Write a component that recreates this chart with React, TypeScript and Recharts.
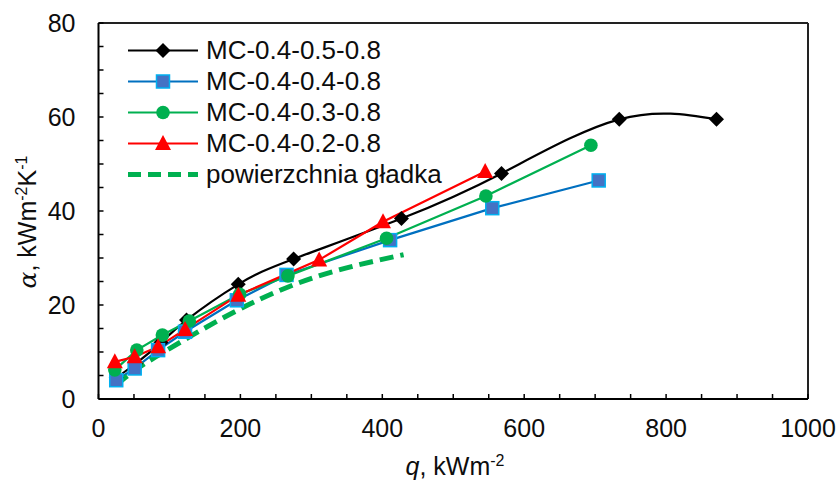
import React from "react";
import { ComposedChart, Line, XAxis, YAxis, ReferenceLine } from "recharts";

// q [kW/m2] and alpha [kW/m2K]
const Q_05 = [25, 52, 88, 124, 197, 275, 427, 568, 734, 871];
const A_05 = [4.5, 7.5, 12, 16.8, 24.4, 29.8, 38.4, 48.0, 59.5, 59.5];
const Q_04 = [25, 51, 84, 122, 195, 265, 411, 555, 705];
const A_04 = [4.0, 6.5, 10.4, 14.3, 21.0, 26.4, 33.8, 40.6, 46.5];
const Q_03 = [23, 54, 90, 128, 199, 267, 406, 546, 694];
const A_03 = [6.2, 10.4, 13.6, 16.6, 22.3, 26.2, 34.2, 43.2, 54.0];
const Q_02 = [23, 51, 84, 122, 197, 311, 401, 545];
const A_02 = [7.9, 9.0, 11.1, 14.8, 22.1, 29.6, 37.7, 48.4];
const Q_SMOOTH = [25, 55, 90, 128, 200, 270, 430];
const A_SMOOTH = [3.0, 6.5, 9.8, 13.2, 19.2, 24.0, 30.7];

const X_TICKS = Array.from({ length: 21 }, (_, i) => i * 50);
const Y_TICKS = Array.from({ length: 17 }, (_, i) => i * 5);

const FONT = "'Liberation Sans', Arial, sans-serif";
const TXT = "#0d0d0d";

const pts = (q: number[], a: number[]) => q.map((x, i) => ({ q: x, a: a[i] }));

type Shape = "diamond" | "square" | "circle" | "triangle" | "none";

function Marker({ shape, cx, cy }: { shape: Shape; cx: number; cy: number }) {
  if (shape === "diamond")
    return <path d={`M${cx},${cy - 7.5}L${cx + 7.5},${cy}L${cx},${cy + 7.5}L${cx - 7.5},${cy}Z`} fill="#000" />;
  if (shape === "square")
    return <rect x={cx - 6.5} y={cy - 6.5} width={13} height={13} fill="#4472C4" stroke="#00B0F0" strokeWidth={1.5} />;
  if (shape === "circle") return <circle cx={cx} cy={cy} r={6.8} fill="#00B050" />;
  if (shape === "triangle")
    return <path d={`M${cx},${cy - 8.5}L${cx + 8},${cy + 6.5}L${cx - 8},${cy + 6.5}Z`} fill="#FF0000" />;
  return null;
}

const SERIES = [
  { name: "MC-0.4-0.5-0.8", data: pts(Q_05, A_05), color: "#000000", shape: "diamond" as Shape, type: "natural", dash: undefined, w: 2.2 },
  { name: "MC-0.4-0.4-0.8", data: pts(Q_04, A_04), color: "#0070C0", shape: "square" as Shape, type: "linear", dash: undefined, w: 2.2 },
  { name: "MC-0.4-0.3-0.8", data: pts(Q_03, A_03), color: "#00B050", shape: "circle" as Shape, type: "linear", dash: undefined, w: 2.2 },
  { name: "MC-0.4-0.2-0.8", data: pts(Q_02, A_02), color: "#FF0000", shape: "triangle" as Shape, type: "linear", dash: undefined, w: 2.2 },
  { name: "powierzchnia gładka", data: pts(Q_SMOOTH, A_SMOOTH), color: "#00B050", shape: "none" as Shape, type: "monotone", dash: "14 7", w: 5 },
];

const xTick = (v: number) => (v % 200 === 0 ? String(v) : "");
const yTick = (v: number) => (v % 20 === 0 ? String(v) : "");

function LegendBox() {
  return (
    <div style={{ position: "absolute", left: 127, top: 35, fontFamily: FONT, fontSize: 26, color: TXT }}>
      {SERIES.map((s) => (
        <div key={s.name} style={{ display: "flex", alignItems: "center", height: 31 }}>
          <svg width={72} height={31} style={{ display: "block" }}>
            <line x1={1} x2={71} y1={15.5} y2={15.5} stroke={s.color} strokeWidth={s.dash ? 5 : 2.2}
              strokeDasharray={s.dash ? "13 7" : undefined} />
            <Marker shape={s.shape} cx={36} cy={15.5} />
          </svg>
          <span style={{ marginLeft: 7, whiteSpace: "nowrap", lineHeight: "31px" }}>{s.name}</span>
        </div>
      ))}
    </div>
  );
}

export default function App() {
  return (
    <div style={{ position: "absolute", left: 0, top: 0, width: 840, height: 484, background: "#fff" }}>
      <ComposedChart width={840} height={484} margin={{ top: 23, right: 32, bottom: 0, left: 0 }}>
        <XAxis type="number" dataKey="q" domain={[0, 1000]} ticks={X_TICKS} interval={0}
          allowDataOverflow height={85} tickFormatter={xTick}
          axisLine={{ stroke: "#000", strokeWidth: 2 }} tickLine={{ stroke: "#000", strokeWidth: 1.5 }}
          tickSize={-5} tickMargin={25}
          tick={{ fill: TXT, fontSize: 25, fontFamily: FONT }} />
        <YAxis type="number" dataKey="a" domain={[0, 80]} ticks={Y_TICKS} interval={0}
          allowDataOverflow width={98.5} tickFormatter={yTick}
          axisLine={{ stroke: "#000", strokeWidth: 2 }} tickLine={{ stroke: "#000", strokeWidth: 1.5 }}
          tickSize={-5} tickMargin={28}
          tick={{ fill: TXT, fontSize: 25, fontFamily: FONT }} />
        <ReferenceLine y={80} stroke="#222" strokeWidth={2} />
        <ReferenceLine x={1000} stroke="#222" strokeWidth={2} />
        {SERIES.map((s) => (
          <Line key={s.name} data={s.data} dataKey="a" name={s.name} type={s.type as any}
            stroke={s.color} strokeWidth={s.w} strokeDasharray={s.dash}
            isAnimationActive={false} legendType="none"
            dot={s.shape === "none" ? false : (p: any) => <Marker key={`${s.name}-${p.index}`} shape={s.shape} cx={p.cx} cy={p.cy} />}
            activeDot={false} />
        ))}
      </ComposedChart>
      <svg width={840} height={484} style={{ position: "absolute", left: 0, top: 0, pointerEvents: "none" }}>
        <text x={455} y={475} textAnchor="middle" fontFamily={FONT} fontSize={25} fill={TXT}>
          <tspan fontStyle="italic">q</tspan>, kWm<tspan dy={-9} fontSize={16}>-2</tspan>
        </text>
        <text transform="translate(36,222) rotate(-90)" textAnchor="middle" fontFamily={FONT} fontSize={25} fill={TXT}>
          <tspan fontStyle="italic" fontFamily="'DejaVu Serif', serif">α</tspan>, kWm<tspan dy={-9} fontSize={16}>-2</tspan>
          <tspan dy={9}>K</tspan><tspan dy={-9} fontSize={16}>-1</tspan>
        </text>
      </svg>
      <LegendBox />
    </div>
  );
}
